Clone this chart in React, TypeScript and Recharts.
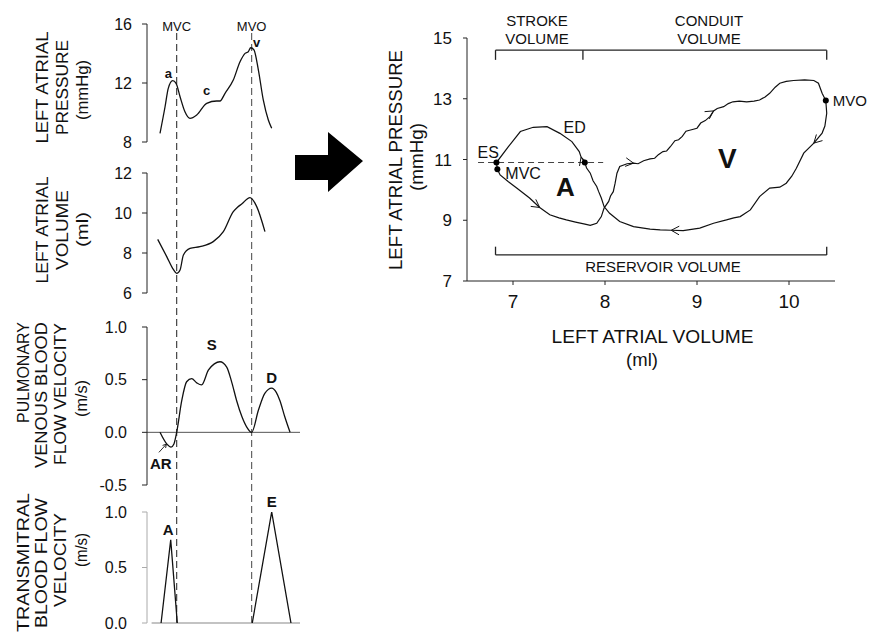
import React from 'react';
import { LineChart, Line, XAxis, YAxis, ReferenceLine, ReferenceDot } from 'recharts';

const FONT = '"Liberation Sans", Arial, Helvetica, sans-serif';
const INK = '#111';

// ---------- Left column: time traces (time in arbitrary units 0..100) ----------
const mvcTime = 19.4;
const mvoTime = 68.4;

const lapTime = [8.5, 11.8, 13.9, 16.8, 19.0, 21.6, 24.8, 28.1, 32.5, 39.0, 45.5, 47.7, 51.0, 56.4, 60.8, 64.1, 66.2, 67.8, 69.9, 72.8, 76.0, 79.3, 81.5];
const lapValue = [8.59, 10.39, 11.64, 12.16, 11.98, 11.07, 10.05, 9.6, 9.83, 10.62, 10.78, 10.78, 11.3, 12.2, 13.44, 14.01, 14.12, 14.39, 14.24, 12.88, 10.85, 9.49, 8.93];
const lapTicks = [8, 12, 16];

const lavTime = [7.0, 12.9, 17.2, 19.4, 21.6, 23.8, 28.1, 34.6, 43.3, 49.9, 56.4, 59.0, 61.9, 67.3, 71.7, 77.1];
const lavValue = [8.68, 7.82, 7.18, 6.98, 7.15, 7.9, 8.23, 8.32, 8.57, 9.07, 10.07, 10.28, 10.45, 10.77, 10.32, 9.07];
const lavTicks = [6, 8, 10, 12];

const pvTime = [8.5, 12.9, 15.7, 17.6, 19.4, 22.7, 25.9, 29.2, 32.5, 35.7, 40.1, 44.0, 47.7, 52.1, 55.5, 58.6, 62.0, 65.2, 68.4, 72.8, 77.0, 81.5, 84.5, 86.9, 90.0, 93.5];
const pvValue = [0, -0.11, -0.14, -0.11, 0, 0.3, 0.48, 0.51, 0.47, 0.45, 0.59, 0.65, 0.67, 0.62, 0.47, 0.3, 0.15, 0.05, 0, 0.21, 0.37, 0.42, 0.38, 0.3, 0.15, 0.0];
const pvTicks = [-0.5, 0, 0.5, 1];

const tmTime = [9.2, 15.5, 19.8, 44.0, 68.8, 81.5, 94.1];
const tmValue: (number | null)[] = [0, 0.75, 0, null, 0, 1.0, 0];
const tmTicks = [0, 0.5, 1];

// ---------- Right panel: pressure-volume loop ----------
const loopVolume = [
  6.83, 6.86, 6.95, 7.04, 7.18, 7.29, 7.40, 7.50, 7.58, 7.68, 7.77, 7.84, 7.91, 7.96, 7.99,
  8.04, 8.06, 8.09, 8.11, 8.13, 8.16, 8.24, 8.31, 8.36, 8.42, 8.49, 8.54, 8.58, 8.63, 8.67, 8.71,
  8.76, 8.80, 8.84, 8.88, 8.93, 9.00, 9.04, 9.09, 9.14, 9.18, 9.22, 9.29, 9.34, 9.39, 9.46, 9.54,
  9.62, 9.68, 9.74, 9.79, 9.85, 9.90, 9.97, 10.05, 10.17, 10.27, 10.32, 10.36, 10.40,
  10.41, 10.39, 10.36, 10.27, 10.16, 10.08, 10.03, 9.97, 9.90, 9.79, 9.68, 9.58, 9.47, 9.40, 9.32,
  9.18, 9.03, 8.85, 8.72, 8.60, 8.49, 8.31, 8.16, 8.05, 7.99,
  7.96, 7.93, 7.91, 7.87, 7.84, 7.80, 7.78, 7.74, 7.72, 7.64, 7.51, 7.37, 7.22, 7.08, 6.95, 6.82, 6.83,
];
const loopPressure = [
  10.68, 10.49, 10.27, 10.06, 9.73, 9.42, 9.18, 9.08, 9.01, 8.94, 8.88, 8.83, 8.90, 9.12, 9.40,
  9.62, 9.80, 9.94, 10.22, 10.55, 10.77, 10.86, 10.88, 10.86, 10.96, 11.02, 11.04, 11.16, 11.26, 11.28, 11.42,
  11.62, 11.65, 11.76, 11.93, 11.97, 12.03, 12.20, 12.28, 12.41, 12.60, 12.68, 12.74, 12.84, 12.90, 12.92, 12.90,
  12.92, 12.96, 13.06, 13.18, 13.38, 13.51, 13.57, 13.60, 13.62, 13.60, 13.51, 13.18, 12.94,
  12.52, 12.10, 11.87, 11.54, 11.21, 10.71, 10.45, 10.22, 10.09, 10.06, 9.78, 9.34, 9.12, 9.08, 9.01,
  8.90, 8.74, 8.66, 8.67, 8.68, 8.71, 8.79, 8.96, 9.23, 9.45,
  9.73, 9.95, 10.11, 10.30, 10.55, 10.72, 10.90, 11.08, 11.26, 11.59, 11.86, 12.08, 12.06, 11.92, 11.42, 10.90, 10.68,
];
// indices of points that carry a direction arrow
const arrowAt = [5, 22, 40, 63, 78, 92];

const eventNames = ['ES', 'MVC', 'ED', 'MVO'];
const eventVolume = [6.82, 6.83, 7.78, 10.40];
const eventPressure = [10.9, 10.68, 10.9, 12.94];

const bracketStart = 6.81;
const bracketMid = 7.76;
const bracketEnd = 10.41;
const topBracketP = 14.6;
const topBracketTickP = 14.28;
const bottomBracketP = 7.86;
const bottomBracketTickP = 8.13;
const dashedP = 10.9;
const dashedFrom = 6.62;
const dashedTo = 7.98;

const lapData = lapTime.map((t, i) => ({ t, y: lapValue[i] }));
const lavData = lavTime.map((t, i) => ({ t, y: lavValue[i] }));
const pvData = pvTime.map((t, i) => ({ t, y: pvValue[i] }));
const tmData = tmTime.map((t, i) => ({ t, y: tmValue[i] }));
const loopData = loopVolume.map((v, i) => ({ v, p: loopPressure[i] }));

// loop plot geometry (px per unit) used only to orient arrowheads
const RX_W = 368, RX_DOM = 4, RY_H = 243, RY_DOM = 8;

function renderLoopDot(props: any) {
  const { cx, cy, index } = props;
  if (!arrowAt.includes(index) || index + 1 >= loopData.length) return <g key={`d${index}`} />;
  const a = loopData[index];
  const b = loopData[index + 1];
  const dx = (b.v - a.v) * (RX_W / RX_DOM);
  const dy = -(b.p - a.p) * (RY_H / RY_DOM);
  const ang = Math.atan2(dy, dx);
  const L = 9, s = 0.5;
  const x1 = cx - L * Math.cos(ang - s), y1 = cy - L * Math.sin(ang - s);
  const x2 = cx - L * Math.cos(ang + s), y2 = cy - L * Math.sin(ang + s);
  return <path key={`d${index}`} d={`M${x1},${y1}L${cx},${cy}L${x2},${y2}`} fill="none" stroke={INK} strokeWidth={1} />;
}

function note(key: string, x: number, y: number, text: string, size: number, bold = false, overflow: any = 'discard') {
  return (
    <ReferenceDot key={key} x={x} y={y} r={0} fill="none" stroke="none" ifOverflow={overflow}
      label={{ value: text, position: 'center', fontSize: size, fontWeight: bold ? 700 : 400, fill: INK, fontFamily: FONT }} />
  );
}

const fmt1 = (v: number) => v.toFixed(1);

function LeftPanel(props: any) {
  const { top, plotTop, plotHeight, bottomPad, data, domain, ticks, tickMargin, axisStroke, formatter, curve, children } = props;
  const mt = plotTop - top;
  const height = mt + plotHeight + bottomPad;
  return (
    <div style={{ position: 'absolute', left: 0, top }}>
      <LineChart width={310} height={height} data={data} margin={{ top: mt, right: 10, bottom: bottomPad, left: 0 }}>
        <XAxis type="number" dataKey="t" domain={[0, 100]} hide />
        <YAxis type="number" domain={domain} ticks={ticks} interval={0} width={147} tickSize={5} tickMargin={tickMargin}
          stroke={axisStroke} tick={{ fontSize: 16, fill: INK, fontFamily: FONT }} tickFormatter={formatter} allowDataOverflow />
        {children}
        <Line dataKey="y" type={curve} stroke={INK} strokeWidth={1.3} dot={false} activeDot={false}
          isAnimationActive={false} connectNulls={false} />
      </LineChart>
    </div>
  );
}

function VText({ x, y, text, len, size = 17 }: any) {
  return (
    <text x={x} y={y} transform={`rotate(-90 ${x} ${y})`} textAnchor="middle" dy="0.36em"
      fontSize={size} fill={INK} fontFamily={FONT} textLength={len} lengthAdjust="spacingAndGlyphs">{text}</text>
  );
}

export default function App() {
  return (
    <div style={{ position: 'absolute', left: 0, top: 0, width: 869, height: 632, background: '#fff', fontFamily: FONT }}>
      {/* dashed event lines across left column */}
      <div style={{ position: 'absolute', left: 0, top: 33 }}>
        <LineChart width={310} height={590} data={[{ t: 0, y: 0 }, { t: 100, y: 1 }]} margin={{ top: 0, right: 10, bottom: 0, left: 147 }}>
          <XAxis type="number" dataKey="t" domain={[0, 100]} hide />
          <YAxis type="number" domain={[0, 1]} hide />
          <ReferenceLine x={mvcTime} stroke="#333" strokeWidth={1.1} strokeDasharray="7 4" />
          <ReferenceLine x={mvoTime} stroke="#555" strokeWidth={1.1} strokeDasharray="7 4" />
          <Line dataKey="y" stroke="none" dot={false} activeDot={false} isAnimationActive={false} />
        </LineChart>
      </div>

      <LeftPanel top={10} plotTop={24} plotHeight={118} bottomPad={10} data={lapData} domain={[8, 16]} ticks={lapTicks}
        tickMargin={10} axisStroke="#222" curve="monotone">
        {note('mvcTop', mvcTime, 15.86, 'MVC', 13)}
        {note('mvoTop', mvoTime, 15.86, 'MVO', 13)}
        {note('a', 13.9, 12.66, 'a', 13, true)}
        {note('c', 39, 11.48, 'c', 13, true)}
        {note('v', 71.7, 14.73, 'v', 13, true)}
      </LeftPanel>

      <LeftPanel top={161} plotTop={173} plotHeight={120} bottomPad={10} data={lavData} domain={[6, 12]} ticks={lavTicks}
        tickMargin={10} axisStroke="#222" curve="monotone" />

      <LeftPanel top={313} plotTop={327} plotHeight={158} bottomPad={10} data={pvData} domain={[-0.5, 1]} ticks={pvTicks}
        tickMargin={15} axisStroke="#222" formatter={fmt1} curve="monotone">
        <ReferenceLine y={0} stroke="#555" strokeWidth={1} />
        {note('S', 42.3, 0.83, 'S', 15, true)}
        {note('D', 81.5, 0.52, 'D', 15, true)}
        {note('AR', 9.0, -0.295, 'AR', 15, true)}
        <ReferenceLine segment={[{ x: 7.8, y: -0.19 }, { x: 12.68, y: -0.112 }]} stroke={INK} strokeWidth={0.9} />
        <ReferenceLine segment={[{ x: 12.16, y: -0.149 }, { x: 12.68, y: -0.112 }]} stroke={INK} strokeWidth={0.9} />
        <ReferenceLine segment={[{ x: 10.2, y: -0.124 }, { x: 12.68, y: -0.112 }]} stroke={INK} strokeWidth={0.9} />
      </LeftPanel>

      <LeftPanel top={490} plotTop={512} plotHeight={111} bottomPad={9} data={tmData} domain={[0, 1]} ticks={tmTicks}
        tickMargin={15} axisStroke="#aaa" formatter={fmt1} curve="linear">
        <ReferenceLine segment={[{ x: 3, y: 0 }, { x: 100, y: 0 }]} stroke="#888" strokeWidth={1.2} />
        {note('Apk', 13.9, 0.84, 'A', 15, true)}
        {note('Epk', 81.5, 1.09, 'E', 15, true, 'visible')}
      </LeftPanel>

      {/* left axis titles */}
      <svg width={140} height={632} style={{ position: 'absolute', left: 0, top: 0 }}>
        <VText x={42} y={87.5} text="LEFT ATRIAL" len={112} />
        <VText x={62} y={87.5} text="PRESSURE" len={95} />
        <VText x={82} y={90} text="(mmHg)" len={60} />
        <VText x={42} y={230} text="LEFT ATRIAL" len={107} />
        <VText x={62} y={230} text="VOLUME" len={80} />
        <VText x={82} y={229.5} text="(ml)" len={35} />
        <VText x={22.5} y={372.5} text="PULMONARY" len={101} />
        <VText x={41} y={395} text="VENOUS BLOOD" len={146} />
        <VText x={59.5} y={394} text="FLOW VELOCITY" len={142} />
        <VText x={81} y={398.5} text="(m/s)" len={37} />
        <VText x={22.5} y={562.5} text="TRANSMITRAL" len={139} />
        <VText x={41} y={563} text="BLOOD FLOW" len={130} />
        <VText x={59.5} y={560} text="VELOCITY" len={94} />
        <VText x={81} y={550} text="(m/s)" len={34} />
      </svg>

      {/* big arrow */}
      <svg width={80} height={80} viewBox="290 125 80 80" style={{ position: 'absolute', left: 290, top: 125 }}>
        <polygon points="295,155 328,155 328,132 363,161 328,192 328,180 295,180" fill="#000" />
      </svg>

      {/* right pressure-volume loop */}
      <div style={{ position: 'absolute', left: 360, top: 0 }}>
        <LineChart width={509} height={311} data={loopData} margin={{ top: 38, right: 34, bottom: 0, left: 0 }}>
          <XAxis type="number" dataKey="v" domain={[6.5, 10.5]} ticks={[7, 8, 9, 10]} interval={0} height={30}
            tickSize={4} tickMargin={10} stroke="#222" tick={{ fontSize: 19, fill: INK, fontFamily: FONT }} allowDataOverflow />
          <YAxis type="number" domain={[7, 15]} ticks={[7, 9, 11, 13, 15]} interval={0} width={107}
            tickSize={4} tickMargin={11} stroke="#222" tick={{ fontSize: 17, fill: INK, fontFamily: FONT }} allowDataOverflow />
          <ReferenceLine segment={[{ x: bracketStart, y: topBracketP }, { x: bracketEnd, y: topBracketP }]} stroke="#222" strokeWidth={1.3} />
          <ReferenceLine segment={[{ x: bracketStart, y: topBracketP }, { x: bracketStart, y: topBracketTickP }]} stroke="#222" strokeWidth={1.3} />
          <ReferenceLine segment={[{ x: bracketMid, y: topBracketP }, { x: bracketMid, y: topBracketTickP }]} stroke="#222" strokeWidth={1.3} />
          <ReferenceLine segment={[{ x: bracketEnd, y: topBracketP }, { x: bracketEnd, y: topBracketTickP }]} stroke="#222" strokeWidth={1.3} />
          <ReferenceLine segment={[{ x: bracketStart, y: bottomBracketP }, { x: bracketEnd, y: bottomBracketP }]} stroke="#222" strokeWidth={1.3} />
          <ReferenceLine segment={[{ x: bracketStart, y: bottomBracketP }, { x: bracketStart, y: bottomBracketTickP }]} stroke="#222" strokeWidth={1.3} />
          <ReferenceLine segment={[{ x: bracketEnd, y: bottomBracketP }, { x: bracketEnd, y: bottomBracketTickP }]} stroke="#222" strokeWidth={1.3} />
          <ReferenceLine segment={[{ x: dashedFrom, y: dashedP }, { x: dashedTo, y: dashedP }]} stroke="#444" strokeWidth={1.1} strokeDasharray="6 4" />
          <Line dataKey="p" type="linear" stroke={INK} strokeWidth={1.2} dot={renderLoopDot} activeDot={false} isAnimationActive={false} />
          {eventNames.map((name, i) => (
            <ReferenceDot key={name} x={eventVolume[i]} y={eventPressure[i]} r={3} fill="#000" stroke="none"
              label={name === 'MVO' ? { value: 'MVO', position: 'right', offset: 4, fontSize: 15, fill: INK, fontFamily: FONT } : undefined} />
          ))}
          {note('esT', 6.73, 11.25, 'ES', 16)}
          {note('mvcT', 7.11, 10.53, 'MVC', 16)}
          {note('edT', 7.67, 12.06, 'ED', 16)}
          {note('Abig', 7.57, 10.11, 'A', 26, true)}
          {note('Vbig', 9.33, 11.04, 'V', 28, true)}
        </LineChart>
      </div>

      {/* right panel texts */}
      <svg width={869} height={380} style={{ position: 'absolute', left: 0, top: 0, pointerEvents: 'none' }}>
        <g fontFamily={FONT} fill={INK} textAnchor="middle">
          <text x={537} y={21} dy="0.36em" fontSize={15}>STROKE</text>
          <text x={537} y={39} dy="0.36em" fontSize={15}>VOLUME</text>
          <text x={709} y={21} dy="0.36em" fontSize={15}>CONDUIT</text>
          <text x={709} y={39} dy="0.36em" fontSize={15}>VOLUME</text>
          <text x={663} y={267} dy="0.36em" fontSize={15}>RESERVOIR VOLUME</text>
          <text x={652.5} y={336} dy="0.36em" fontSize={18.5} textLength={202} lengthAdjust="spacingAndGlyphs">LEFT ATRIAL VOLUME</text>
          <text x={642} y={366} fontSize={18.5}>(ml)</text>
        </g>
        <VText x={395} y={160} text="LEFT ATRIAL PRESSURE" len={220} size={18.5} />
        <VText x={416} y={157} text="(mmHg)" len={68} size={18.5} />
      </svg>
    </div>
  );
}
